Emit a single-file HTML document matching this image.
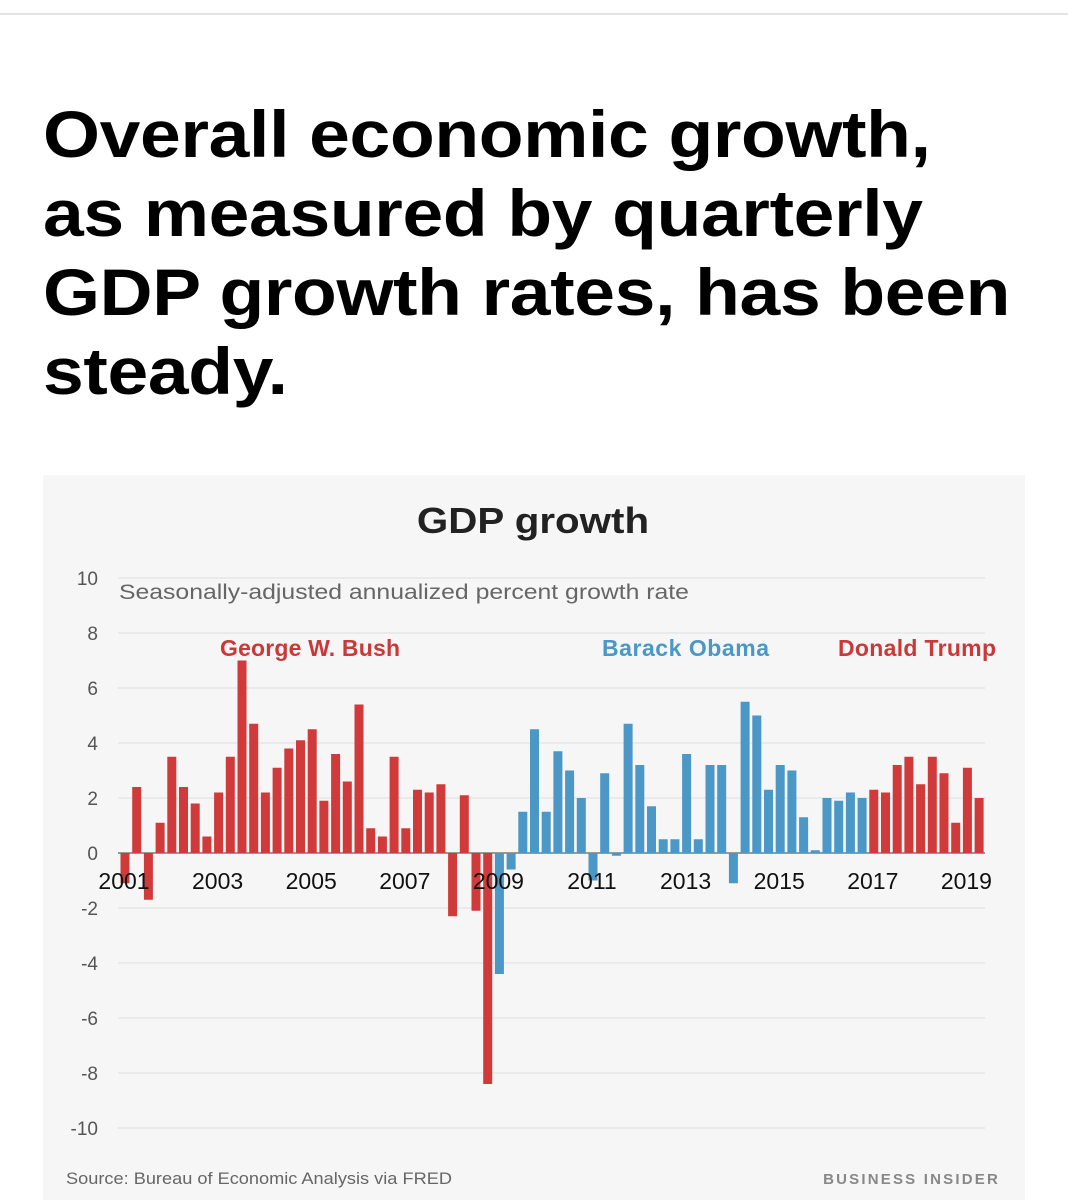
<!DOCTYPE html>
<html><head><meta charset="utf-8"><style>
body{margin:0;width:1068px;height:1200px;background:#fff;overflow:hidden;font-family:"Liberation Sans",Arial,sans-serif;position:relative}
#topline{position:absolute;left:0;top:13px;width:1068px;height:2px;background:#e4e4e4}
h1{position:absolute;left:43px;top:95px;margin:0;font-size:66px;line-height:79px;font-weight:bold;color:#000;letter-spacing:-0.3px;white-space:nowrap;transform:scaleX(1.11);transform-origin:0 0}
#panel{position:absolute;left:43px;top:475px;width:982px;height:725px;background:#f6f6f6}
</style></head><body>
<div id="topline"></div>
<h1>Overall economic growth,<br>as measured by quarterly<br>GDP growth rates, has been<br>steady.</h1>
<div id="panel"></div>
<svg id="chart" width="1068" height="1200" style="position:absolute;left:0;top:0"></svg>
<script>
const years=[2001,2003,2005,2007,2009,2011,2013,2015,2017,2019];
const yTicks=[10,8,6,4,2,0,-2,-4,-6,-8,-10];
const bushValues=[-1.1,2.4,-1.7,1.1, 3.5,2.4,1.8,0.6, 2.2,3.5,7.0,4.7, 2.2,3.1,3.8,4.1, 4.5,1.9,3.6,2.6, 5.4,0.9,0.6,3.5, 0.9,2.3,2.2,2.5, -2.3,2.1,-2.1,-8.4];
const obamaValues=[-4.4,-0.6,1.5,4.5, 1.5,3.7,3.0,2.0, -1.0,2.9,-0.1,4.7, 3.2,1.7,0.5,0.5, 3.6,0.5,3.2,3.2, -1.1,5.5,5.0,2.3, 3.2,3.0,1.3,0.1, 2.0,1.9,2.2,2.0];
const trumpValues=[2.3,2.2,3.2,3.5, 2.5,3.5,2.9,1.1, 3.1,2.0];
const NS="http://www.w3.org/2000/svg";
const svg=document.getElementById('chart');
const y=v=>853-v*27.5;
const x=i=>125+i*11.7;
function mk(tag,attrs,text){const e=document.createElementNS(NS,tag);for(const k in attrs)e.setAttribute(k,attrs[k]);if(text!==undefined)e.textContent=text;svg.appendChild(e);return e;}
yTicks.forEach(t=>{
  const g=mk('line',{x1:118,x2:985,y1:y(t),y2:y(t),stroke:t===0?'#999':'#e2e2e2','stroke-width':t===0?2:1.2});
  
  
  const l=mk('text',{x:98,y:y(t)+7,'text-anchor':'end','font-size':19,fill:'#555'},String(t));
  
  
});
function bars(vals,offset,color,name){
  vals.forEach((v,i)=>{
    const top=Math.min(y(v),y(0)),h=Math.abs(y(v)-y(0));
    const r=mk('rect',{x:x(offset+i)-4.5,y:top,width:9,height:Math.max(h,1),fill:color});
    
    
  });
}
bars(bushValues,0,'#d03a3a','bar-bush');
bars(obamaValues,bushValues.length,'#4b97c5','bar-obama');
bars(trumpValues,bushValues.length+obamaValues.length,'#d03a3a','bar-trump');
years.forEach(yr=>{
  const t=mk('text',{x:x((yr-2001)*4)-1,y:889,'text-anchor':'middle','font-size':23,fill:'#111'},String(yr));
  
  
});
let e;
e=mk('text',{x:533,y:533,'text-anchor':'middle','font-size':36,'font-weight':'bold',fill:'#222',transform:'translate(533,0) scale(1.12,1) translate(-533,0)'},'GDP growth');


e=mk('text',{x:119,y:599,'font-size':21,fill:'#666',transform:'translate(119,0) scale(1.18,1) translate(-119,0)'},'Seasonally-adjusted annualized percent growth rate');


e=mk('text',{x:220,y:656,'font-size':23,'font-weight':'bold',fill:'#c9393a',textLength:180},'George W. Bush');


e=mk('text',{x:602,y:656,'font-size':23,'font-weight':'bold',fill:'#4b97c5',textLength:167},'Barack Obama');


e=mk('text',{x:838,y:656,'font-size':23,'font-weight':'bold',fill:'#c9393a',textLength:158},'Donald Trump');


e=mk('text',{x:66,y:1184,'font-size':17,fill:'#666',transform:'translate(66,0) scale(1.07,1) translate(-66,0)'},'Source: Bureau of Economic Analysis via FRED');


e=mk('text',{x:1000,y:1184,'text-anchor':'end','font-size':15,fill:'#888','letter-spacing':'2.2','font-weight':'bold'},'BUSINESS INSIDER');


</script>
</body></html>
